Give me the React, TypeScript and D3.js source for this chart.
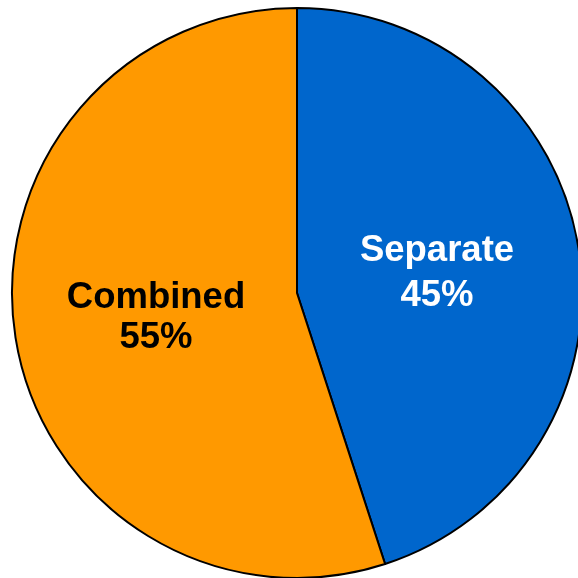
import React from "react";
import * as d3 from "d3";

const categories = ["Separate", "Combined"];
const values = [45, 55];
const colors = ["#0066CC", "#FF9900"];
const labelColors = ["#FFFFFF", "#000000"];

export default function App() {
  const W = 578, H = 578;
  const cx = 297, cy = 293, r = 285;
  const pie = d3.pie<number>().sort(null).value((d) => d)(values);
  const arc = d3.arc<d3.PieArcDatum<number>>().innerRadius(0).outerRadius(r);
  const total = d3.sum(values);
  const labelPos = [
    { x: 437, y: 261, dy: 45 },
    { x: 156, y: 308, dy: 40 },
  ];
  return (
    <svg width={W} height={H} style={{ position: "fixed", left: 0, top: 0 }}>
      <g transform={`translate(${cx},${cy})`}>
        {pie.map((p, i) => (
          <path key={i} d={arc(p) || ""} fill={colors[i]} stroke="#000" strokeWidth={2} strokeLinejoin="round" />
        ))}
      </g>
      {pie.map((p, i) => (
        <text key={i} x={labelPos[i].x} y={labelPos[i].y} textAnchor="middle" fontFamily="Liberation Sans, Arial, sans-serif" fontWeight="bold" fontSize={36.5} fill={labelColors[i]}>
          <tspan x={labelPos[i].x}>{categories[i]}</tspan>
          <tspan x={labelPos[i].x} dy={labelPos[i].dy}>{Math.round((values[i] / total) * 100)}%</tspan>
        </text>
      ))}
    </svg>
  );
}
